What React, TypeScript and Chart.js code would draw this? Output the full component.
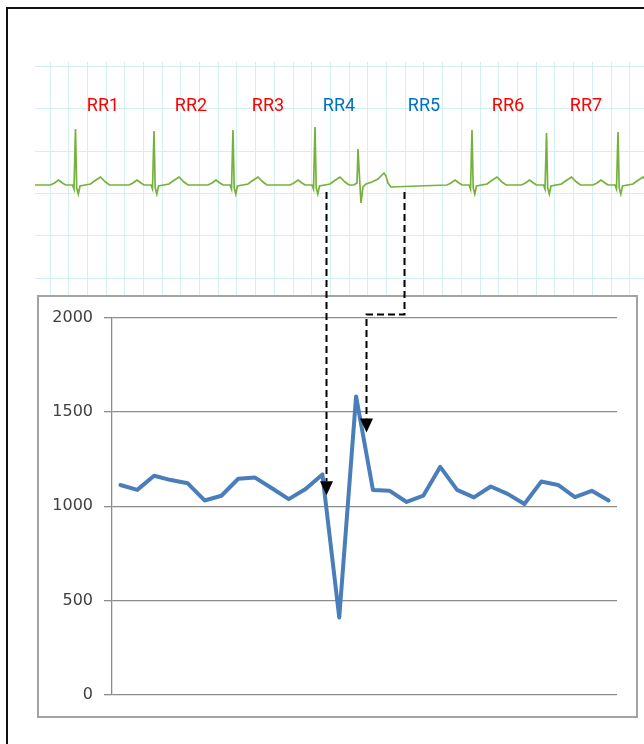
import React, { useEffect, useRef } from "react";
import { Chart, registerables } from "chart.js";
Chart.register(...registerables);

// ---- RR interval chart data ----
const BEATS = ["1","2","3","4","5","6","7","8","9","10","11","12","13","14","15","16","17","18","19","20","21","22","23","24","25","26","27","28","29","30"];
const RR_VALUES = [1113, 1087, 1162, 1139, 1122, 1031, 1056, 1146, 1152, 1096, 1038, 1092, 1169, 410, 1582, 1087, 1082, 1023, 1057, 1209, 1087, 1047, 1105, 1066, 1012, 1131, 1113, 1049, 1082, 1031];
const Y_MIN = 0;
const Y_MAX = 2000;
const Y_STEP = 500;

// ---- ECG strip (x in px-like units from strip left, y in units above baseline) ----
const NORMAL_R_X = [40.5, 119, 198, 280, 437, 511.5, 583];
const NORMAL_R_H = [56, 54, 55, 58, 55, 52, 53];
const PVC_X = [323];
const PVC_H = [36];
const NORMAL_DX = [-25, -21, -17, -13, -10, -3, -1.5, 0, 1.2, 2.8, 4.5, 15, 19, 25, 30, 34];
const NORMAL_DY = [0, 2, 5, 2, 0, 0, -4, NaN, -3, -9, -1, 1, 4, 8, 3, 0];
const PVC_DX = [-4, -1, 0, 1.5, 3, 5, 8, 14, 20, 24, 26, 28, 30, 33, 60];
const PVC_DY = [0, 2, NaN, 8, -18, -2, 1, 3, 6, 10, 12, 9, 2, -2, -1];
const ECG_X_MIN = 0;
const ECG_X_MAX = 609;
const ECG_Y_MIN = -111;
const ECG_Y_MAX = 123;

// RR labels on the strip
const RR_LABELS = ["RR1", "RR2", "RR3", "RR4", "RR5", "RR6", "RR7"];
const RR_LABEL_X = [68, 156, 233, 304, 389, 473, 551];
const RR_LABEL_COLORS = ["#ff0000", "#ff0000", "#ff0000", "#0070c0", "#0070c0", "#ff0000", "#ff0000"];
const RR_LABEL_Y = 79;

// arrows: source on the strip (x units, y units), target on the RR chart (category index, value)
const ARROW_SRC_X = [290.5, 369];
const ARROW_SRC_Y = [-7, -7];
const ARROW_ELBOW_VALUE = [null, 2020];
const ARROW_TGT_INDEX = [12.2, 14.6];
const ARROW_TGT_VALUE = [1058, 1391];

// layout (page px)
const ECG_LEFT = 35, ECG_TOP = 62, ECG_W = 609, ECG_H = 234;
const BOX_LEFT = 37, BOX_TOP = 295, BOX_W = 601, BOX_H = 423, BOX_B = 2;
const CV_W = BOX_W - 2 * BOX_B, CV_H = BOX_H - 2 * BOX_B;

function buildEcg() {
  const pts: { x: number; y: number }[] = [{ x: ECG_X_MIN, y: 0 }];
  NORMAL_R_X.forEach((rx, i) => {
    NORMAL_DX.forEach((dx, j) => {
      const dy = isNaN(NORMAL_DY[j]) ? NORMAL_R_H[i] : NORMAL_DY[j];
      pts.push({ x: rx + dx, y: dy });
    });
  });
  PVC_X.forEach((px, i) => {
    PVC_DX.forEach((dx, j) => {
      const dy = isNaN(PVC_DY[j]) ? PVC_H[i] : PVC_DY[j];
      pts.push({ x: px + dx, y: dy });
    });
  });
  pts.sort((a, b) => a.x - b.x);
  return pts;
}

export default function App() {
  const ecgRef = useRef<HTMLCanvasElement>(null);
  const rrRef = useRef<HTMLCanvasElement>(null);
  const ovRef = useRef<HTMLCanvasElement>(null);

  useEffect(() => {
    const gridX: number[] = [];
    for (let v = 15; v <= ECG_X_MAX; v += 18.7) gridX.push(v);
    const gridY: number[] = [];
    for (let v = 118.3; v >= ECG_Y_MIN; v -= 42.3) gridY.push(v);

    const labelPlugin = {
      id: "rrLabels",
      afterDatasetsDraw(chart: any) {
        const ctx = chart.ctx;
        ctx.save();
        ctx.font = "18px Roboto";
        ctx.textAlign = "center";
        ctx.textBaseline = "middle";
        RR_LABELS.forEach((t, i) => {
          ctx.fillStyle = RR_LABEL_COLORS[i];
          ctx.fillText(t, chart.scales.x.getPixelForValue(RR_LABEL_X[i]), chart.scales.y.getPixelForValue(RR_LABEL_Y));
        });
        ctx.restore();
      },
    };

    const ecg = new Chart(ecgRef.current!, {
      type: "line",
      data: {
        datasets: [
          {
            data: buildEcg(),
            borderColor: "#74b23c",
            borderWidth: 1.7,
            pointRadius: 0,
            tension: 0,
            fill: false,
          },
        ],
      },
      options: {
        animation: false,
        responsive: false,
        devicePixelRatio: 1,
        layout: { padding: 0 },
        plugins: { legend: { display: false }, tooltip: { enabled: false } },
        scales: {
          x: {
            type: "linear",
            min: ECG_X_MIN,
            max: ECG_X_MAX,
            afterBuildTicks: (s: any) => { s.ticks = gridX.map((v) => ({ value: v })); },
            ticks: { display: false },
            grid: { color: "#d2f0f1", lineWidth: 1, drawTicks: false },
            border: { display: false },
          },
          y: {
            type: "linear",
            min: ECG_Y_MIN,
            max: ECG_Y_MAX,
            afterBuildTicks: (s: any) => { s.ticks = gridY.map((v) => ({ value: v })); },
            ticks: { display: false },
            grid: { color: "#d2f0f1", lineWidth: 1, drawTicks: false },
            border: { display: false },
          },
        },
      },
      plugins: [labelPlugin],
    } as any);

    const rr = new Chart(rrRef.current!, {
      type: "line",
      data: {
        labels: BEATS,
        datasets: [
          {
            data: RR_VALUES,
            borderColor: "#4a7ebb",
            borderWidth: 4,
            pointRadius: 0,
            tension: 0,
            borderJoinStyle: "round",
            borderCapStyle: "round",
            fill: false,
          },
        ],
      },
      options: {
        animation: false,
        responsive: false,
        devicePixelRatio: 1,
        layout: { padding: { left: 0, top: 20, right: 19, bottom: 21 } },
        plugins: { legend: { display: false }, tooltip: { enabled: false } },
        scales: {
          x: { type: "category", offset: true, display: false },
          y: {
            min: Y_MIN,
            max: Y_MAX,
            ticks: {
              stepSize: Y_STEP,
              padding: 11,
              color: "#404040",
              font: { family: "DejaVu Sans", size: 16 },
              callback: (v: any) => String(v),
            },
            grid: { color: "#8c8c8c", lineWidth: 1.3, tickLength: 8 },
            border: { color: "#8c8c8c", width: 1.3 },
            afterFit: (s: any) => { s.width = 73; },
          },
        },
      },
    } as any);

    // overlay arrows
    const ov = ovRef.current!;
    const ctx = ov.getContext("2d")!;
    ctx.clearRect(0, 0, ov.width, ov.height);
    const ex = (u: number) => ECG_LEFT + ecg.scales.x.getPixelForValue(u);
    const ey = (u: number) => ECG_TOP + ecg.scales.y.getPixelForValue(u);
    const rx = (i: number) => BOX_LEFT + BOX_B + rr.scales.x.getPixelForValue(i as any);
    const ry = (v: number) => BOX_TOP + BOX_B + rr.scales.y.getPixelForValue(v);
    ctx.strokeStyle = "#000";
    ctx.fillStyle = "#000";
    ctx.lineWidth = 2;
    ARROW_SRC_X.forEach((sx, i) => {
      const x0 = Math.round(ex(sx)) + 0.5;
      const y0 = ey(ARROW_SRC_Y[i]);
      const x1 = Math.round(rx(ARROW_TGT_INDEX[i])) + 0.5;
      const tip = ry(ARROW_TGT_VALUE[i]);
      const headH = 14, headW = 13;
      ctx.setLineDash([7, 4]);
      ctx.beginPath();
      ctx.moveTo(x0, y0);
      const elbow = ARROW_ELBOW_VALUE[i];
      if (elbow !== null) {
        const ye = Math.round(ry(elbow as number)) + 0.5;
        ctx.lineTo(x0, ye);
        ctx.lineTo(x1, ye);
      }
      ctx.lineTo(x1, tip - headH);
      ctx.stroke();
      ctx.setLineDash([]);
      ctx.beginPath();
      ctx.moveTo(x1 - headW / 2, tip - headH);
      ctx.lineTo(x1 + headW / 2, tip - headH);
      ctx.lineTo(x1, tip);
      ctx.closePath();
      ctx.fill();
    });

    return () => {
      ecg.destroy();
      rr.destroy();
    };
  }, []);

  return (
    <div style={{ position: "fixed", left: 0, top: 0, width: 644, height: 744, overflow: "hidden", background: "#fff" }}>
      <div style={{ position: "absolute", left: 6, top: 7, width: 800, height: 900, border: "2px solid #111", boxSizing: "border-box" }} />
      <canvas ref={ecgRef} width={ECG_W} height={ECG_H} style={{ position: "absolute", left: ECG_LEFT, top: ECG_TOP, width: ECG_W, height: ECG_H }} />
      <div style={{ position: "absolute", left: BOX_LEFT, top: BOX_TOP, width: BOX_W, height: BOX_H, border: `${BOX_B}px solid #a3a3a3`, boxSizing: "border-box", background: "#fff" }}>
        <canvas ref={rrRef} width={CV_W} height={CV_H} style={{ display: "block", width: CV_W, height: CV_H }} />
      </div>
      <canvas ref={ovRef} width={644} height={744} style={{ position: "absolute", left: 0, top: 0, width: 644, height: 744, pointerEvents: "none" }} />
    </div>
  );
}
